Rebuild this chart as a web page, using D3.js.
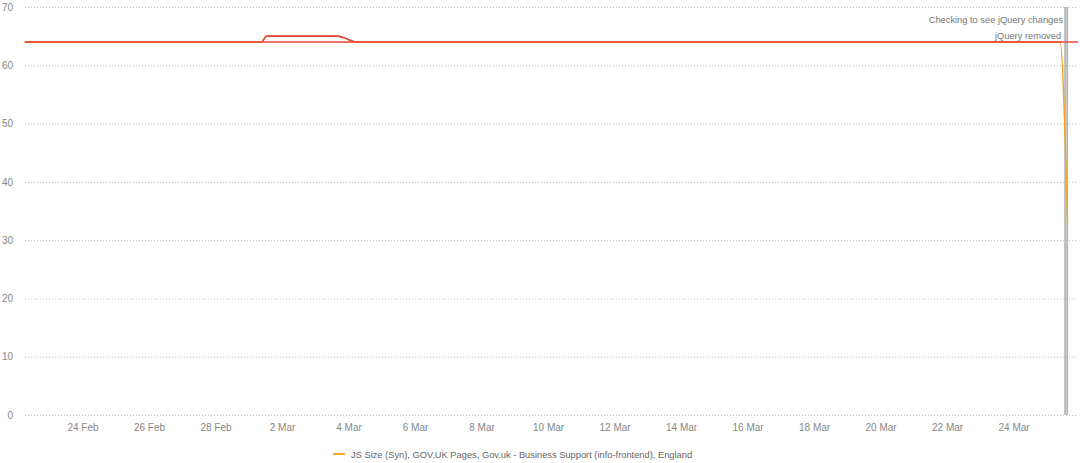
<!DOCTYPE html>
<html>
<head>
<meta charset="utf-8">
<script src="https://cdn.jsdelivr.net/npm/d3@7"></script>
<style>
  html, body { margin: 0; padding: 0; background: #fff; }
  svg { display: block; font-family: "Liberation Sans", Arial, Helvetica, sans-serif; }
</style>
</head>
<body>
<svg id="chart" width="1080" height="463"></svg>
<script>
// ---- data ----
const seriesName = "JS Size (Syn), GOV.UK Pages, Gov.uk - Business Support (info-frontend), England";
const times = [
  "2023-02-22T06:00", "2023-03-01T09:00", "2023-03-01T13:00", "2023-03-03T16:00",
  "2023-03-04T06:00", "2023-03-25T09:30", "2023-03-25T15:00"
];
const values = [64, 64, 65, 65, 64, 64, 33];
const budget = 64;
const annotationTimes = ["2023-03-25T13:10", "2023-03-25T14:40"];
const annotationLabels = ["Checking to see jQuery changes", "jQuery removed"];
const yTicks = [0, 10, 20, 30, 40, 50, 60, 70];
const xTickDates = ["2023-02-24","2023-02-26","2023-02-28","2023-03-02","2023-03-04","2023-03-06",
  "2023-03-08","2023-03-10","2023-03-12","2023-03-14","2023-03-16","2023-03-18","2023-03-20",
  "2023-03-22","2023-03-24"];
const xTickLabels = ["24 Feb","26 Feb","28 Feb","2 Mar","4 Mar","6 Mar","8 Mar","10 Mar","12 Mar",
  "14 Mar","16 Mar","18 Mar","20 Mar","22 Mar","24 Mar"];
const domainStart = "2023-02-22T06:30";
const domainEnd = "2023-03-25T22:30";

// ---- layout ----
const parse = d3.isoParse;
const svg = d3.select("#chart");
const mLeft = 25, mRight = 1078, mTop = 7, mBottom = 415;

const x = d3.scaleTime().domain([parse(domainStart), parse(domainEnd)]).range([mLeft, mRight]);
const y = d3.scaleLinear().domain([0, 70]).range([mBottom, mTop]);

const data = times.map((t, i) => ({ t: parse(t), v: values[i] }));

// gridlines
const yAxis = d3.axisLeft(y).tickValues(yTicks).tickSize(-(mRight - mLeft)).tickPadding(12);
const gy = svg.append("g").attr("transform", `translate(${mLeft},0)`).call(yAxis);
gy.select(".domain").remove();
gy.selectAll(".tick line").attr("stroke", "#bbb").attr("stroke-dasharray", "1,2");
gy.selectAll(".tick text").attr("fill", "#888").style("font-size", "10px").attr("x", -12);

// x axis
const labelMap = new Map(xTickDates.map((d, i) => [+parse(d), xTickLabels[i]]));
const xAxis = d3.axisBottom(x).tickValues(xTickDates.map(parse))
  .tickFormat(d => labelMap.get(+d)).tickSize(0).tickPadding(9);
const gx = svg.append("g").attr("transform", `translate(0,${mBottom})`).call(xAxis);
gx.select(".domain").remove();
gx.selectAll(".tick text").attr("fill", "#888").style("font-size", "10px");

// annotation lines
annotationTimes.forEach(t => {
  svg.append("line")
    .attr("x1", x(parse(t))).attr("x2", x(parse(t)))
    .attr("y1", mTop).attr("y2", mBottom)
    .attr("stroke", "#aaa").attr("stroke-width", 1.5);
});
svg.append("g").selectAll("text").data(annotationLabels).join("text")
  .attr("x", (d, i) => x(parse(annotationTimes[0])) - 2 - i * 2)
  .attr("y", (d, i) => 23 + i * 16)
  .attr("text-anchor", "end")
  .attr("fill", "#777")
  .style("font-size", "9.3px")
  .text(d => d);

// budget line
svg.append("line")
  .attr("x1", mLeft).attr("x2", mRight)
  .attr("y1", y(budget)).attr("y2", y(budget))
  .attr("stroke", "#e8453c").attr("stroke-width", 1.6);

// series line
const line = d3.line().x(d => x(d.t)).y(d => y(d.v)).curve(d3.curveMonotoneX);
svg.append("path").datum(data).attr("d", line)
  .attr("fill", "none").attr("stroke", "#f5a623").attr("stroke-width", 1.4);

svg.append("clipPath").attr("id", "over")
  .append("rect").attr("x", mLeft).attr("y", mTop - 5)
  .attr("width", mRight - mLeft).attr("height", y(budget) - mTop + 6);
svg.append("path").datum(data).attr("d", line)
  .attr("clip-path", "url(#over)")
  .attr("fill", "none").attr("stroke", "#e8453c").attr("stroke-width", 1.6);

// legend
const lg = svg.append("g").attr("transform", "translate(333,454)");
lg.append("line").attr("x1", 0).attr("x2", 12).attr("y1", 0).attr("y2", 0)
  .attr("stroke", "#f5a623").attr("stroke-width", 2);
lg.append("text").attr("x", 18).attr("y", 3.5)
  .attr("fill", "#666").style("font-size", "9.3px").text(seriesName);
</script>
</body>
</html>
